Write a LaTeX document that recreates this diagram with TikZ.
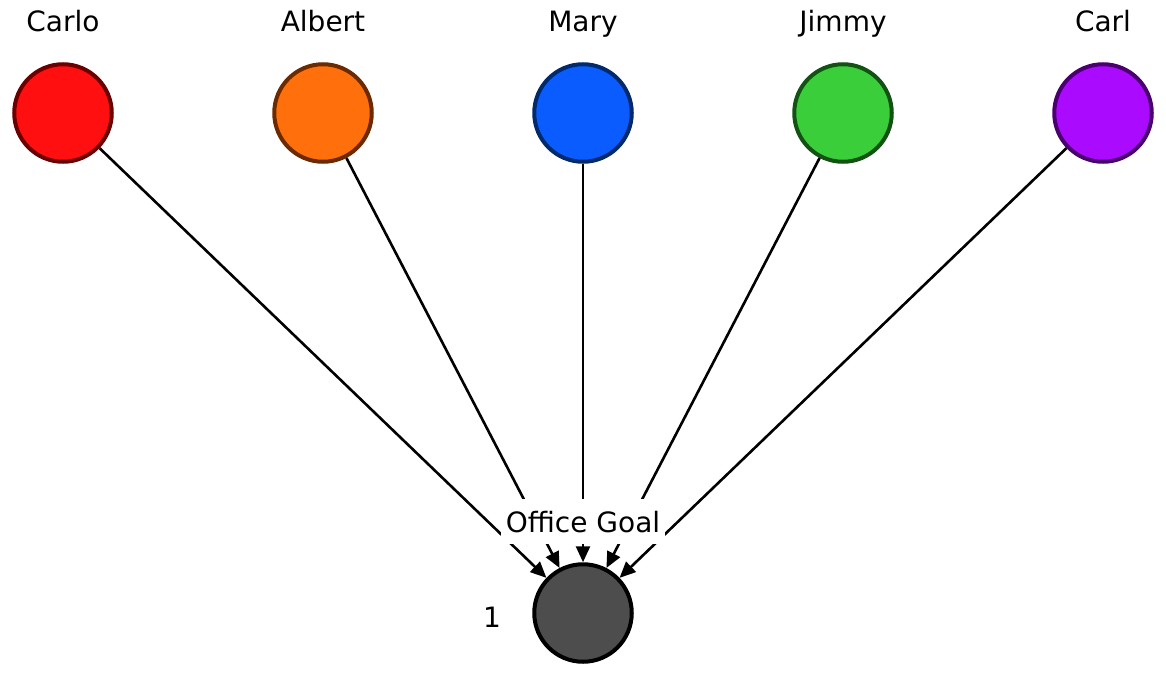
\documentclass[tikz,border=0pt]{standalone}
\usepackage{fontspec}
\setmainfont{DejaVu Sans}
\usetikzlibrary{arrows.meta}
\definecolor{cRed}{HTML}{FF0F0F}
\definecolor{bRed}{HTML}{6B0000}
\definecolor{cOrange}{HTML}{FF6F0B}
\definecolor{bOrange}{HTML}{6B2A00}
\definecolor{cBlue}{HTML}{0B5CFF}
\definecolor{bBlue}{HTML}{002A6B}
\definecolor{cGreen}{HTML}{3BCE3B}
\definecolor{bGreen}{HTML}{145214}
\definecolor{cPurple}{HTML}{AA0BFF}
\definecolor{bPurple}{HTML}{4B0070}
\definecolor{cGray}{HTML}{4D4D4D}
\begin{document}
\begin{tikzpicture}[x=1pt,y=-1pt,
  person/.style={circle, minimum size=97.5pt, line width=4pt, inner sep=0pt},
  lbl/.style={font=\fontsize{28}{33}\selectfont, inner sep=0pt, anchor=base},
  link/.style={line width=2.6pt, -{Triangle[length=16pt,width=14pt]}}]
\useasboundingbox (0,0) rectangle (1166,677);
\node[person, fill=cRed, draw=bRed] (carlo) at (63,113) {};
\node[person, fill=cOrange, draw=bOrange] (albert) at (323,113) {};
\node[person, fill=cBlue, draw=bBlue] (mary) at (583,113) {};
\node[person, fill=cGreen, draw=bGreen] (jimmy) at (843,113) {};
\node[person, fill=cPurple, draw=bPurple] (carl) at (1103,113) {};
\node[person, fill=cGray, draw=black] (goal) at (583,613) {};
\node[lbl] (tcarlo) at (63,32) {Carlo};
\node[lbl] (talbert) at (323,32) {Albert};
\node[lbl] (tmary) at (583,32) {Mary};
\node[lbl] (tjimmy) at (843,32) {Jimmy};
\node[lbl] (tcarl) at (1103,32) {Carl};
\node[lbl] (one) at (492,627) {1};
\draw[link] (carlo) -- (goal);
\draw[link] (albert) -- (goal);
\draw[link] (mary) -- (goal);
\draw[link] (jimmy) -- (goal);
\draw[link] (carl) -- (goal);
\node[lbl, fill=white, inner xsep=5pt, inner ysep=12pt, text height=21pt, text depth=0pt] (office) at (583,532) {Office Goal};
\end{tikzpicture}
\end{document}
